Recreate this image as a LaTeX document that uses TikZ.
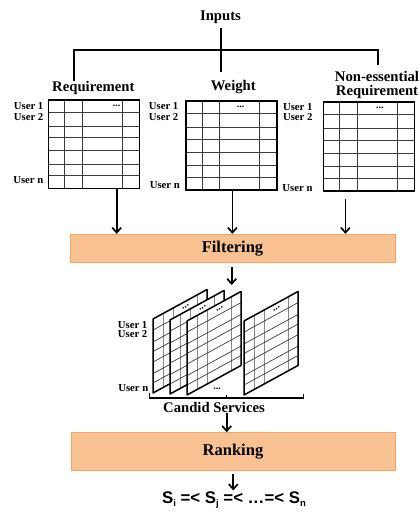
\documentclass[tikz,border=0pt]{standalone}
\usepackage{fontspec}
\setmainfont{Liberation Serif}
\newfontfamily\formulafont{Liberation Sans}
\usetikzlibrary{arrows.meta,calc}

\definecolor{stagefill}{RGB}{248,193,146}
\definecolor{stageline}{RGB}{240,165,105}
\definecolor{gridline}{RGB}{60,60,60}
\definecolor{sheetgrid}{RGB}{135,135,135}

\newcommand\lowidx[1]{\raisebox{-0.35ex}{\fontsize{9.5}{9.5}\selectfont #1}}

\tikzset{
  lbl/.style={font=\bfseries\fontsize{10.7}{11}\selectfont, inner sep=0pt, anchor=east},
  head/.style={font=\bfseries\fontsize{14.7}{14}\selectfont, inner sep=0pt, align=center},
  stage/.style={draw=stageline, fill=stagefill, line width=0.9pt, inner sep=0pt,
    font=\bfseries\fontsize{16.5}{18}\selectfont},
  dotsmark/.style={font=\bfseries\fontsize{10}{10}\selectfont, inner sep=0pt},
  arr/.style={line width=1.7pt, -{Straight Barb[length=5pt,width=9pt]}},
  bracket/.style={line width=1.9pt},
  % a table of users x services, placed by its top left corner
  datatable/.pic={
    \foreach \f in {0.192,0.383,0.823}
      \draw[gridline, line width=1pt] (\f*91,0) -- (\f*91,88.5);
    \foreach \r in {0.15,0.31,0.44,0.583,0.738,0.865}
      \draw[gridline, line width=1pt] (0,\r*88.5) -- (91,\r*88.5);
    \node[draw, line width=1.8pt, minimum width=91pt, minimum height=88.5pt,
      inner sep=0pt, anchor=north west] (-box) at (0,0) {};
    \node[dotsmark] at (#1*91,6.5) {...};
  },
  % a slanted sheet of the candidate stack, placed by its bottom left corner
  sheet/.pic={
    \fill[white] (0,0) -- (0,-74) -- (54,-103.5) -- (54,-29.5) -- cycle;
    \foreach \f in {0.192,0.383,0.823}
      \draw[sheetgrid, line width=0.8pt] (\f*54,-\f*29.5) -- (\f*54,-74-\f*29.5);
    \foreach \r in {0.15,0.31,0.44,0.583,0.738,0.865}
      \draw[gridline, line width=0.7pt] (0,-74+\r*74) -- (54,-74+\r*74-29.5);
    \draw[line width=1.5pt, line join=round] (0,0) -- (0,-74) -- (54,-103.5) -- (54,-29.5) -- cycle;
    \node[dotsmark, rotate=28.6] at (32.6,-86) {...};
  },
}

\begin{document}
\begin{tikzpicture}[x=1pt,y=-1pt]
\useasboundingbox (0,0) rectangle (419,516);

% inputs and the bracket to the three tables
\node[head] (inputs) at (220.5,17.5) {Inputs};
\node[head] (reqhead) at (93.3,87.5) {Requirement};
\node[head] (wthead) at (233.3,87) {Weight};
\node[head] (nehead) at (377,84.5) {Non-essential\\Requirement};

\coordinate (brL) at (74,81);
\coordinate (brR) at (377.7,65);
\coordinate (brM) at (221,50);
\draw[bracket] (inputs.south -| brM) ++(0,4) -- (brM |- 0,72);
\draw[bracket] (brL) -- (brL |- brM) -- (brR |- brM) -- (brR);

% the three input tables
\pic (t1) at (47.5,99) {datatable=0.76};
\pic (t2) at (185,100.5) {datatable=0.61};
\pic (t3) at (322.5,101.5) {datatable=0.63};

\node[lbl] (t1u1) at (43.5,106) {User 1};
\node[lbl] (t1u2) at (43.5,117) {User 2};
\node[lbl] (t1un) at (43.5,180) {User n};
\node[lbl] (t2u1) at (178.5,106) {User 1};
\node[lbl] (t2u2) at (178.5,117) {User 2};
\node[lbl] (t2un) at (180,185) {User n};
\node[lbl] (t3u1) at (312.7,107) {User 1};
\node[lbl] (t3u2) at (312.7,117.5) {User 2};
\node[lbl] (t3un) at (312.7,188.5) {User n};

% filtering stage
\node[stage, minimum width=325pt, minimum height=28pt] (filter) at (232.5,248.3) {Filtering};

\coordinate (a1) at ([xshift=69.2pt]t1-box.south west);
\coordinate (a2) at ([xshift=1pt]t2-box.south);
\coordinate (a3) at ([xshift=-23.5pt,yshift=-7pt]t3-box.south);
\draw[arr] (a1) -- (a1 |- filter.north);
\draw[arr] (a2) -- (a2 |- filter.north);
\draw[arr] (a3) -- (a3 |- filter.north);

% stack of candidate services
\coordinate (stacktop) at (231.7,285);
\draw[arr, shorten <=4pt] (filter.south -| stacktop) -- (stacktop);

\pic at (153,393) {sheet};
\pic at (170,394) {sheet};
\pic at (187,395) {sheet};
\pic at (244,395) {sheet};

\node[dotsmark] (gapdots) at (217,389) {...};

\node[lbl] (su1) at (147.5,325) {User 1};
\node[lbl] (su2) at (147.5,334.5) {User 2};
\node[lbl] (sun) at (148.5,388.5) {User n};

\coordinate (sbL) at (149.3,393);
\coordinate (sbR) at (303.3,393.5);
\coordinate (sbM) at (226.7,398);
\draw[line width=1.2pt] (sbL) -- (sbL |- sbM) -- (sbR |- sbM) -- (sbR);
\draw[line width=1.2pt] (sbM) -- ++(0,-3.5);

\node[head] (candid) at (214,407.5) {Candid Services};

% ranking stage and the ordered result
\node[stage, minimum width=324pt, minimum height=37.3pt] (ranking) at (233,451.3) {Ranking};

\coordinate (c1) at (226.7,0);
\draw[arr] (candid.south -| c1) -- (ranking.north -| c1);

\node[font=\formulafont\bfseries\fontsize{16.8}{18}\selectfont, inner sep=1pt] (result) at (234,500)
  {S\lowidx{i} =< S\lowidx{j} =< …=< S\lowidx{n}};

\coordinate (c2) at (233.3,0);
\draw[arr, shorten <=4pt] (ranking.south -| c2) -- (result.north -| c2);
\end{tikzpicture}
\end{document}
